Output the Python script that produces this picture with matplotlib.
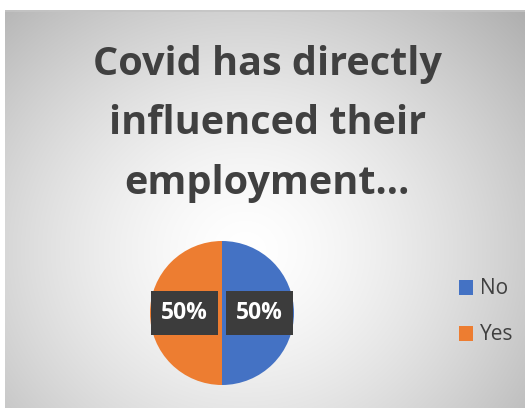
import matplotlib.pyplot as plt
import numpy as np

labels = ['No', 'Yes']
values = [50, 50]
colors = ['#4472C4', '#ED7D31']
title = 'Covid has directly\ninfluenced their\nemployment…'

W, H = 525, 408
fig = plt.figure(figsize=(W / 100, H / 100), dpi=100)
fig.patch.set_facecolor('white')

# radial gradient background of the chart area
bg = fig.add_axes([5 / W, 0, 520 / W, 398 / H])
yy, xx = np.mgrid[0:398, 0:520]
r = np.sqrt(((xx - 240) / 320.0) ** 2 + ((yy - 240) / 290.0) ** 2)
shade = 1.0 - 0.24 * np.clip(r, 0, 1.3) ** 1.5
bg.imshow(np.dstack([shade] * 3), aspect='auto', interpolation='bilinear',
          extent=(0, 520, 398, 0))
bg.set_axis_off()
bg.plot([0, 520], [1, 1], color='#c4c4c4', lw=1.2)
bg.set_xlim(0, 520)
bg.set_ylim(398, 0)

fig.text(0.509, 1 - 124 / H, title, ha='center', va='center',
         fontsize=28.5, fontweight='bold', color='#404040',
         family='Open Sans', linespacing=1.68)

# pie
cx, cy, rad = 222, 313, 72
ax = fig.add_axes([(cx - rad) / W, (H - cy - rad) / H, 2 * rad / W, 2 * rad / H])
wedges, texts, autotexts = ax.pie(values, colors=colors, startangle=90, counterclock=False,
                                  autopct='%1.0f%%', pctdistance=0.52,
                                  wedgeprops=dict(linewidth=0))
for t in autotexts:
    t.set_color('white')
    t.set_fontsize(16.5)
    t.set_fontweight('bold')
    t.set_family('Open Sans')
    t.set_bbox(dict(boxstyle='square,pad=0.42', facecolor='#3c3c3c', edgecolor='none'))
ax.set_xlim(-1, 1)
ax.set_ylim(-1, 1)
ax.set_aspect('equal')

fig.legend(wedges, labels, loc='center left', bbox_to_anchor=(440 / W, 1 - 312 / H),
           frameon=False, handlelength=0.7, handleheight=0.7,
           handletextpad=0.3, labelspacing=1.2, labelcolor='#404040',
           prop={'family': 'Open Sans', 'size': 15})

fig.savefig('out.png', dpi=100)
